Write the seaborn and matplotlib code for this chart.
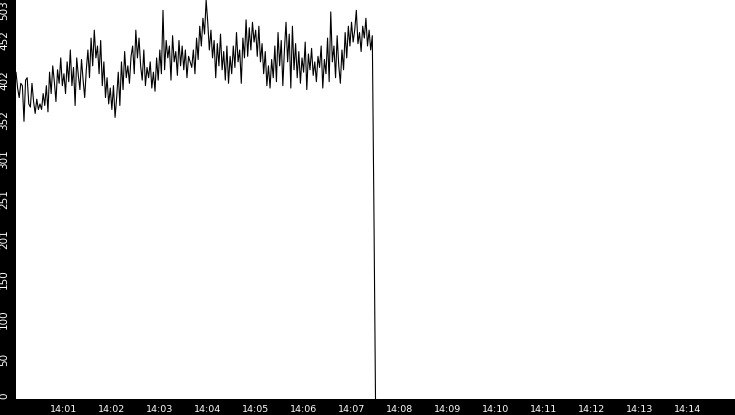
import numpy as np
import pandas as pd
import matplotlib
matplotlib.use('Agg')
import matplotlib.pyplot as plt
import matplotlib.dates as mdates
import seaborn as sns


# ===================================
# Data (one sample every 2 s from 14:00:00)
# ===================================
START_TIME = '2024-01-01 14:00:00'
SAMPLE_STEP = '2s'

values = [
    412, 392, 380, 398, 395, 350, 402, 405, 372, 368, 398, 375, 360, 378, 365,
    372, 365, 385, 370, 395, 362, 412, 385, 420, 400, 375, 415, 398, 430, 395,
    410, 385, 425, 400, 440, 395, 418, 370, 430, 408, 390, 428, 402, 380, 415,
    440, 405, 455, 420, 465, 430, 445, 410, 452, 395, 425, 380, 405, 372, 392,
    365, 395, 355, 380, 412, 370, 425, 390, 438, 405, 420, 398, 432, 445, 410,
    465, 430, 455, 420, 402, 440, 395, 418, 405, 425, 392, 412, 388, 430, 402,
    440, 410, 490, 415, 452, 430, 445, 402, 458, 425, 438, 408, 452, 420, 445,
    415, 440, 405, 432, 425, 418, 440, 410, 455, 428, 470, 445, 480, 460, 503,
    475, 440, 465, 430, 452, 405, 448, 420, 460, 415, 438, 402, 445, 398, 432,
    410, 445, 418, 462, 425, 440, 398, 455, 430, 478, 432, 468, 440, 475, 450,
    465, 432, 470, 425, 448, 410, 438, 395, 420, 392, 428, 405, 445, 400, 462,
    420, 452, 395, 440, 475, 425, 460, 392, 470, 415, 448, 405, 438, 398, 430,
    412, 450, 390, 435, 415, 442, 408, 425, 400, 432, 418, 445, 392, 428, 410,
    455, 400, 488, 425, 445, 405, 458, 420, 398, 440, 415, 462, 430, 470, 445,
    475, 450, 465, 490, 448, 462, 438, 470, 455, 480, 445, 465, 440, 458,
    240, 0,
]

y_max = 503
y_ticks = [i * y_max / 10 for i in range(11)]
y_tick_labels = [str(int(v)) for v in y_ticks]

x_start = '2024-01-01 14:00:00'
x_end = '2024-01-01 14:15:00'
x_tick_times = ['14:%02d' % m for m in range(1, 15)]


# ===================================
# Plot
# ===================================
times = pd.date_range(START_TIME, periods=len(values), freq=SAMPLE_STEP)
df = pd.DataFrame({'time': times, 'value': values})

sns.set_style('white')
plt.rcParams['font.family'] = ['DejaVu Sans']

fig = plt.figure(figsize=(7.35, 4.15), dpi=100, facecolor='black')
ax = fig.add_axes([16 / 735, 16 / 415, 1 - 16 / 735, 1 - 16 / 415])
ax.set_facecolor('white')

sns.lineplot(data=df, x='time', y='value', ax=ax, color='black',
             linewidth=0.8, estimator=None)

ax.set_xlim(pd.Timestamp(x_start), pd.Timestamp(x_end))
ax.set_ylim(0, y_max)

ax.set_xticks([pd.Timestamp('2024-01-01 ' + t) for t in x_tick_times])
ax.xaxis.set_major_formatter(mdates.DateFormatter('%H:%M'))
ax.set_yticks(y_ticks)
ax.set_yticklabels(y_tick_labels, rotation=90, va='center')

labels = ax.get_yticklabels()
labels[0].set_va('bottom')
labels[-1].set_va('top')

ax.tick_params(axis='x', colors='white', labelsize=6.8, length=4, width=1,
               direction='out', pad=0)
ax.tick_params(axis='y', colors='white', labelsize=7.5, length=4, width=1,
               direction='out', pad=1)
ax.set_xlabel('')
ax.set_ylabel('')
for s in ax.spines.values():
    s.set_visible(False)

fig.savefig('out.png', dpi=100, facecolor='black')
